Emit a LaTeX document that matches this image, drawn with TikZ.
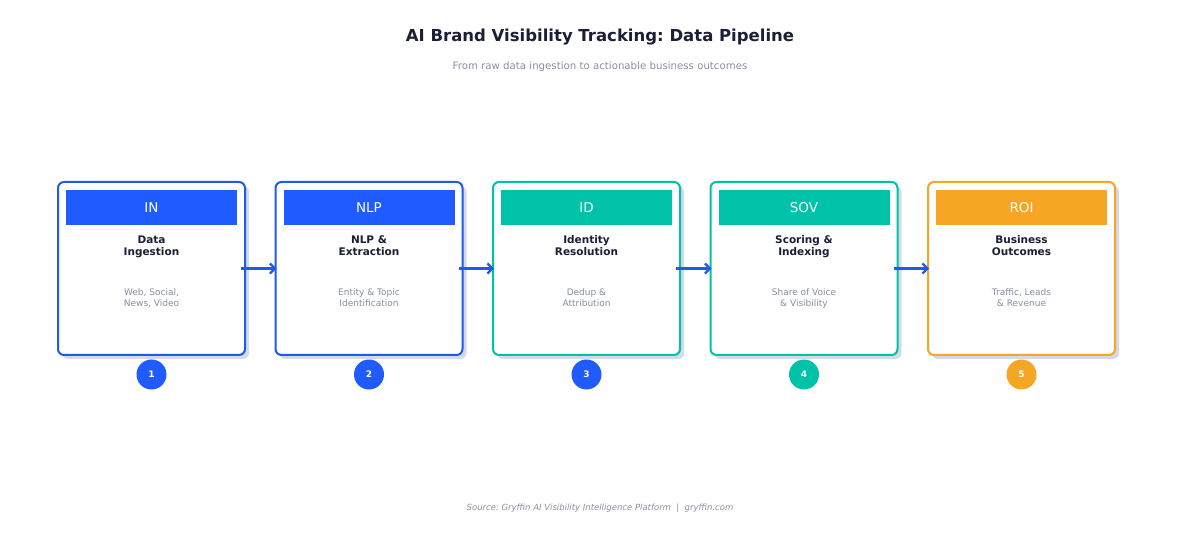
\documentclass[tikz,border=0pt]{standalone}
\usepackage{fontspec}
\setmainfont{DejaVu Sans}
\frenchspacing
\usetikzlibrary{arrows.meta}
\definecolor{cblue}{HTML}{1F5BFF}
\definecolor{cbord}{HTML}{1F5BE6}
\definecolor{cteal}{HTML}{00C2A8}
\definecolor{corange}{HTML}{F5A623}
\definecolor{cnavy}{HTML}{1A1F36}
\definecolor{cgray}{HTML}{8A8FA0}
\definecolor{cshadow}{HTML}{D3DAE8}
\tikzset{
  x=1pt, y=-1pt,
  card/.style={draw=#1, line width=2pt, rounded corners=6pt, fill=white, minimum width=187pt, minimum height=173pt, inner sep=0pt},
  shadowbox/.style={fill=cshadow, rounded corners=6pt, minimum width=187pt, minimum height=173pt, inner sep=0pt, draw=none},
  header/.style={fill=#1, minimum width=171pt, minimum height=35pt, inner sep=0pt, text=white, font=\fontsize{13.5}{15}\selectfont},
  ctitle/.style={text=cnavy, font=\bfseries\fontsize{10.5}{12.5}\selectfont, anchor=base, inner sep=0pt},
  cdesc/.style={text=cgray, font=\fontsize{9}{11.5}\selectfont, anchor=base, inner sep=0pt},
  badge/.style={circle, fill=#1, minimum size=30pt, inner sep=0pt, text=white, font=\bfseries\fontsize{9}{10}\selectfont},
  flow/.style={draw=cbord, line width=2.2pt, -{Straight Barb[length=5pt,width=10pt,line width=2.2pt]}}
}
\begin{document}
\begin{tikzpicture}
\useasboundingbox (0,0) rectangle (1200,537);
\node[text=cnavy, font=\bfseries\fontsize{16.5}{19}\selectfont] (title) at (600,37) {AI Brand Visibility Tracking: Data Pipeline};
\node[text=cgray, font=\fontsize{10.2}{12}\selectfont] (sub) at (600,67) {From raw data ingestion to actionable business outcomes};
\node[text=cgray, font=\itshape\fontsize{8.5}{10}\selectfont] (src) at (600,508) {Source: Gryffin AI Visibility Intelligence Platform \ | \ gryffin.com};
\foreach \i/\x/\bc/\hc/\cc/\ab/\ta/\tb/\da/\db in {
  1/151.5/cbord/cblue/cblue/IN/Data/Ingestion/{Web, Social,}/{News, Video},
  2/369/cbord/cblue/cblue/NLP/NLP \&/Extraction/Entity \& Topic/Identification,
  3/586.5/cteal/cteal/cblue/ID/Identity/Resolution/Dedup \&/Attribution,
  4/804/cteal/cteal/cteal/SOV/Scoring \&/Indexing/Share of Voice/\& Visibility,
  5/1021.5/corange/corange/corange/ROI/Business/Outcomes/{Traffic, Leads}/\& Revenue}{
  \node[shadowbox] (s\i) at (\x+4,272.5) {};
  \node[card=\bc] (b\i) at (\x,268.5) {};
  \node[header=\hc] (h\i) at (\x,207.5) {\ab};
  \node[ctitle] (ta\i) at (\x,243.5) {\ta};
  \node[ctitle] (tb\i) at (\x,255.5) {\tb};
  \node[cdesc] (da\i) at (\x,295.5) {\da};
  \node[cdesc] (db\i) at (\x,306.5) {\db};
  \node[badge=\cc] (c\i) at (\x,374.5) {\i};
}
\foreach \a/\b in {1/2,2/3,3/4,4/5}{
  \draw[flow] ([xshift=-5pt]b\a.east) -- ([xshift=2pt]b\b.west);
}
\end{tikzpicture}
\end{document}
